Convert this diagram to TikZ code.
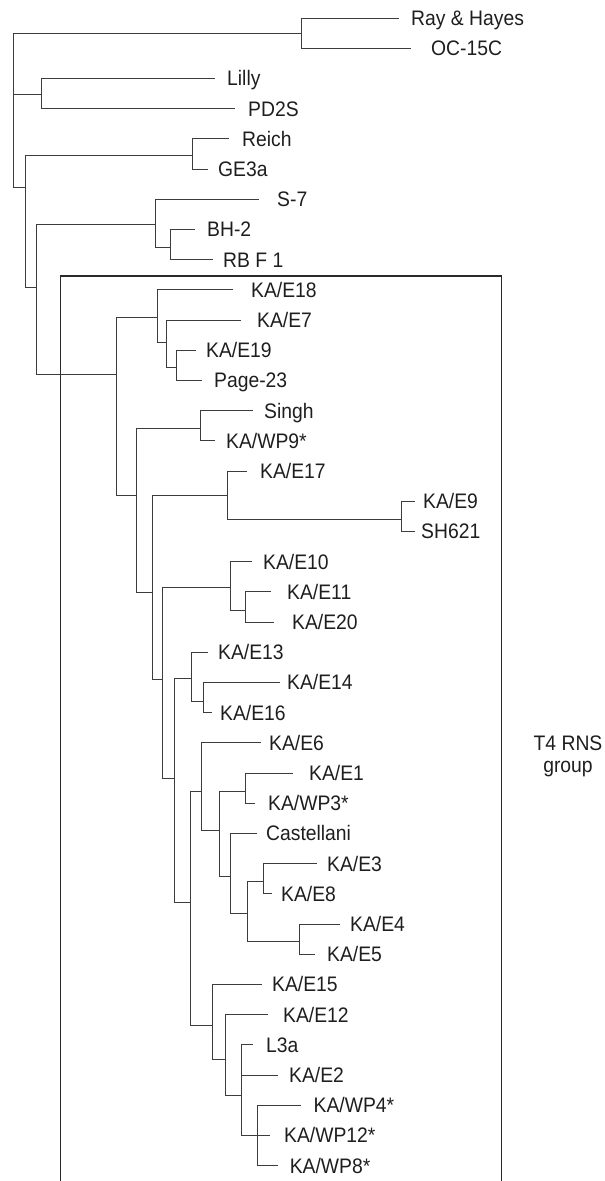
\documentclass[tikz,border=0pt]{standalone}
\usepackage{fontspec}
\setmainfont{Liberation Sans}[FakeStretch=0.92]
\usepackage{xcolor}
\usepackage{tikz}
\definecolor{BranchGrey}{HTML}{3C3C3C}
\definecolor{FrameGrey}{HTML}{2A2A2A}
\definecolor{InkDark}{HTML}{1E1E1E}

\begin{document}
\begin{tikzpicture}[
  x=1pt, y=-1pt,
  branch/.style={draw=BranchGrey, line width=0.9pt},
  taxon/.style={anchor=west, inner sep=0pt, text height=15pt, text depth=0pt, font=\fontsize{21}{24}\selectfont, text=InkDark},
  frame/.style={draw=FrameGrey, line width=1.3pt},
  grouplabel/.style={align=center, inner sep=0pt, font=\fontsize{21}{22}\selectfont, text=InkDark}
]
  \useasboundingbox (0,0) rectangle (605,1181);

  \node[taxon] (rayhayes-l) at (411,18) {Ray \& Hayes};
  \node[taxon] (oc15c-l) at (431,48.2) {OC-15C};
  \node[taxon] (lilly-l) at (227,78.4) {Lilly};
  \node[taxon] (pd2s-l) at (248,108.6) {PD2S};
  \node[taxon] (reich-l) at (242,138.8) {Reich};
  \node[taxon] (ge3a-l) at (218,169) {GE3a};
  \node[taxon] (s7-l) at (277,199.2) {S-7};
  \node[taxon] (bh2-l) at (207,229.4) {BH-2};
  \node[taxon] (rbf1-l) at (223,259.6) {RB F 1};
  \node[taxon] (kae18-l) at (251,289.8) {KA/E18};
  \node[taxon] (kae7-l) at (257,320) {KA/E7};
  \node[taxon] (kae19-l) at (206,350.2) {KA/E19};
  \node[taxon] (page23-l) at (214,380.4) {Page-23};
  \node[taxon] (singh-l) at (264,410.6) {Singh};
  \node[taxon] (kawp9-l) at (226,440.8) {KA/WP9*};
  \node[taxon] (kae17-l) at (260,471) {KA/E17};
  \node[taxon] (kae9-l) at (423,501.2) {KA/E9};
  \node[taxon] (sh621-l) at (421,531.4) {SH621};
  \node[taxon] (kae10-l) at (263,561.6) {KA/E10};
  \node[taxon] (kae11-l) at (287,591.8) {KA/E11};
  \node[taxon] (kae20-l) at (292,622) {KA/E20};
  \node[taxon] (kae13-l) at (218,652.2) {KA/E13};
  \node[taxon] (kae14-l) at (287,682.4) {KA/E14};
  \node[taxon] (kae16-l) at (220,712.6) {KA/E16};
  \node[taxon] (kae6-l) at (269,742.8) {KA/E6};
  \node[taxon] (kae1-l) at (309,773) {KA/E1};
  \node[taxon] (kawp3-l) at (268,803.2) {KA/WP3*};
  \node[taxon] (castellani-l) at (266,833.4) {Castellani};
  \node[taxon] (kae3-l) at (327,863.6) {KA/E3};
  \node[taxon] (kae8-l) at (281,893.8) {KA/E8};
  \node[taxon] (kae4-l) at (350,924) {KA/E4};
  \node[taxon] (kae5-l) at (327,954.2) {KA/E5};
  \node[taxon] (kae15-l) at (272,984.4) {KA/E15};
  \node[taxon] (kae12-l) at (283,1014.6) {KA/E12};
  \node[taxon] (l3a-l) at (266,1044.8) {L3a};
  \node[taxon] (kae2-l) at (289,1075) {KA/E2};
  \node[taxon] (kawp4-l) at (313.5,1105.2) {KA/WP4*};
  \node[taxon] (kawp12-l) at (284,1135.4) {KA/WP12*};
  \node[taxon] (kawp8-l) at (289.6,1165.6) {KA/WP8*};

  \coordinate (rayhayes) at (399,18);
  \coordinate (oc15c) at (411,48.2);
  \coordinate (lilly) at (215,78.4);
  \coordinate (pd2s) at (235,108.6);
  \coordinate (reich) at (229,138.8);
  \coordinate (ge3a) at (208,169);
  \coordinate (s7) at (259,199.2);
  \coordinate (bh2) at (195,229.4);
  \coordinate (rbf1) at (213,259.6);
  \coordinate (kae18) at (233,289.8);
  \coordinate (kae7) at (240.7,320);
  \coordinate (kae19) at (196,350.2);
  \coordinate (page23) at (202,380.4);
  \coordinate (singh) at (253,410.6);
  \coordinate (kawp9) at (215,440.8);
  \coordinate (kae17) at (247,471);
  \coordinate (kae9) at (415,501.2);
  \coordinate (sh621) at (415,531.4);
  \coordinate (kae10) at (252,561.6);
  \coordinate (kae11) at (270.7,591.8);
  \coordinate (kae20) at (274,622);
  \coordinate (kae13) at (208,652.2);
  \coordinate (kae14) at (280,682.4);
  \coordinate (kae16) at (212,712.6);
  \coordinate (kae6) at (260.7,742.8);
  \coordinate (kae1) at (293,773);
  \coordinate (kawp3) at (255,803.2);
  \coordinate (castellani) at (256.7,833.4);
  \coordinate (kae3) at (316.6,863.6);
  \coordinate (kae8) at (272,893.8);
  \coordinate (kae4) at (339.8,924);
  \coordinate (kae5) at (314.7,954.2);
  \coordinate (kae15) at (261.7,984.4);
  \coordinate (kae12) at (267.7,1014.6);
  \coordinate (l3a) at (253.3,1044.8);
  \coordinate (kae2) at (278.3,1075);
  \coordinate (kawp4) at (301,1105.2);
  \coordinate (kawp12) at (270,1135.4);
  \coordinate (kawp8) at (278.3,1165.6);

  \coordinate (root) at (13.3,94);
  \coordinate (rayoc) at (301.7,33);
  \coordinate (lillypd) at (41.7,94);
  \coordinate (inner) at (25.7,187);
  \coordinate (reichge) at (192.3,155);
  \coordinate (lower) at (36.7,287);
  \coordinate (s7clade) at (155.7,224);
  \coordinate (bhrb) at (170.7,247);
  \coordinate (t4) at (116.7,374);
  \coordinate (e18clade) at (157,317);
  \coordinate (e7clade) at (166.7,342);
  \coordinate (e19page) at (176.7,367);
  \coordinate (singhclade) at (136,495);
  \coordinate (singhwp) at (200,428);
  \coordinate (restA) at (152.7,592);
  \coordinate (e17clade) at (227.3,495);
  \coordinate (e9sh) at (401.7,519);
  \coordinate (restB) at (162.7,679);
  \coordinate (e10clade) at (230,587);
  \coordinate (e11e20) at (245.7,610);
  \coordinate (restC) at (174,778);
  \coordinate (e13clade) at (191.7,678);
  \coordinate (e14e16) at (203.3,701);
  \coordinate (restD) at (190,902);
  \coordinate (e6clade) at (201,791);
  \coordinate (e1cast) at (219.3,830);
  \coordinate (e1wp3) at (245,791);
  \coordinate (castclade) at (230,876);
  \coordinate (e3e4) at (247.3,913);
  \coordinate (e3e8) at (263.3,881);
  \coordinate (e4e5) at (299.5,941);
  \coordinate (e15clade) at (212.3,1025);
  \coordinate (e12clade) at (225,1059);
  \coordinate (l3aclade) at (241.7,1095);
  \coordinate (wpclade) at (257.7,1135.4);

  \coordinate (frame-sw) at (60.7,1190);
  \coordinate (frame-ne) at (501.3,276);
  \draw[frame] (frame-sw) |- (frame-ne) -- (frame-ne |- frame-sw);
  \node[grouplabel] (t4rns) at (568,756) {T4 RNS\\group};

  \draw[branch] (root) |- (rayoc);
  \draw[branch] (root) |- (lillypd);
  \draw[branch] (root) |- (inner);
  \draw[branch] (rayoc) |- (rayhayes);
  \draw[branch] (rayoc) |- (oc15c);
  \draw[branch] (lillypd) |- (lilly);
  \draw[branch] (lillypd) |- (pd2s);
  \draw[branch] (inner) |- (reichge);
  \draw[branch] (inner) |- (lower);
  \draw[branch] (reichge) |- (reich);
  \draw[branch] (reichge) |- (ge3a);
  \draw[branch] (lower) |- (s7clade);
  \draw[branch] (lower) |- (t4);
  \draw[branch] (s7clade) |- (s7);
  \draw[branch] (s7clade) |- (bhrb);
  \draw[branch] (bhrb) |- (bh2);
  \draw[branch] (bhrb) |- (rbf1);
  \draw[branch] (t4) |- (e18clade);
  \draw[branch] (t4) |- (singhclade);
  \draw[branch] (e18clade) |- (kae18);
  \draw[branch] (e18clade) |- (e7clade);
  \draw[branch] (e7clade) |- (kae7);
  \draw[branch] (e7clade) |- (e19page);
  \draw[branch] (e19page) |- (kae19);
  \draw[branch] (e19page) |- (page23);
  \draw[branch] (singhclade) |- (singhwp);
  \draw[branch] (singhclade) |- (restA);
  \draw[branch] (singhwp) |- (singh);
  \draw[branch] (singhwp) |- (kawp9);
  \draw[branch] (restA) |- (e17clade);
  \draw[branch] (restA) |- (restB);
  \draw[branch] (e17clade) |- (kae17);
  \draw[branch] (e17clade) |- (e9sh);
  \draw[branch] (e9sh) |- (kae9);
  \draw[branch] (e9sh) |- (sh621);
  \draw[branch] (restB) |- (e10clade);
  \draw[branch] (restB) |- (restC);
  \draw[branch] (e10clade) |- (kae10);
  \draw[branch] (e10clade) |- (e11e20);
  \draw[branch] (e11e20) |- (kae11);
  \draw[branch] (e11e20) |- (kae20);
  \draw[branch] (restC) |- (e13clade);
  \draw[branch] (restC) |- (restD);
  \draw[branch] (e13clade) |- (kae13);
  \draw[branch] (e13clade) |- (e14e16);
  \draw[branch] (e14e16) |- (kae14);
  \draw[branch] (e14e16) |- (kae16);
  \draw[branch] (restD) |- (e6clade);
  \draw[branch] (restD) |- (e15clade);
  \draw[branch] (e6clade) |- (kae6);
  \draw[branch] (e6clade) |- (e1cast);
  \draw[branch] (e1cast) |- (e1wp3);
  \draw[branch] (e1cast) |- (castclade);
  \draw[branch] (e1wp3) |- (kae1);
  \draw[branch] (e1wp3) |- (kawp3);
  \draw[branch] (castclade) |- (castellani);
  \draw[branch] (castclade) |- (e3e4);
  \draw[branch] (e3e4) |- (e3e8);
  \draw[branch] (e3e4) |- (e4e5);
  \draw[branch] (e3e8) |- (kae3);
  \draw[branch] (e3e8) |- (kae8);
  \draw[branch] (e4e5) |- (kae4);
  \draw[branch] (e4e5) |- (kae5);
  \draw[branch] (e15clade) |- (kae15);
  \draw[branch] (e15clade) |- (e12clade);
  \draw[branch] (e12clade) |- (kae12);
  \draw[branch] (e12clade) |- (l3aclade);
  \draw[branch] (l3aclade) |- (l3a);
  \draw[branch] (l3aclade) |- (kae2);
  \draw[branch] (l3aclade) |- (wpclade);
  \draw[branch] (wpclade) |- (kawp4);
  \draw[branch] (wpclade) |- (kawp12);
  \draw[branch] (wpclade) |- (kawp8);
\end{tikzpicture}
\end{document}
